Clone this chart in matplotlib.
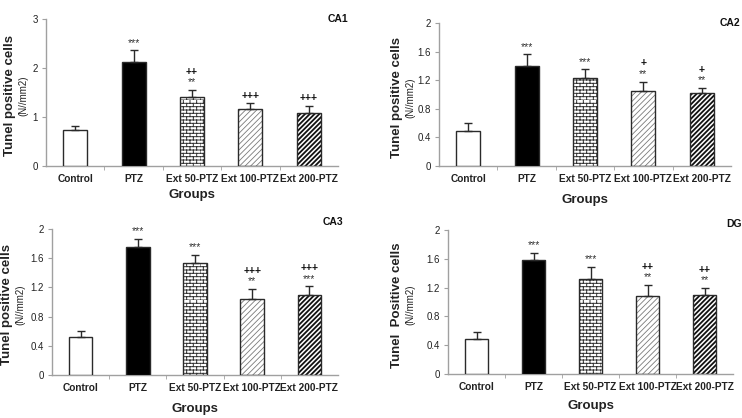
import warnings
warnings.filterwarnings("ignore")
import numpy as np
import matplotlib
matplotlib.use("Agg")
import matplotlib.pyplot as plt
from matplotlib import hatch as mhatch
from matplotlib.path import Path

# ---------------- data ----------------
groups = ["Control", "PTZ", "Ext 50-PTZ", "Ext 100-PTZ", "Ext 200-PTZ"]

ca1_mean = [0.74, 2.12, 1.41, 1.155, 1.09]
ca1_err = [0.08, 0.24, 0.14, 0.125, 0.13]
ca1_stars = ["", "***", "**", "", ""]
ca1_plus = ["", "", "++", "+++", "+++"]

ca2_mean = [0.485, 1.40, 1.235, 1.05, 1.025]
ca2_err = [0.115, 0.16, 0.115, 0.13, 0.07]
ca2_stars = ["", "***", "***", "**", "**"]
ca2_plus = ["", "", "", "+", "+"]

ca3_mean = [0.526, 1.757, 1.533, 1.04, 1.094]
ca3_err = [0.075, 0.11, 0.11, 0.14, 0.12]
ca3_stars = ["", "***", "***", "**", "***"]
ca3_plus = ["", "", "", "+++", "+++"]

dg_mean = [0.49, 1.58, 1.32, 1.09, 1.10]
dg_err = [0.10, 0.105, 0.17, 0.15, 0.09]
dg_stars = ["", "***", "***", "**", "**"]
dg_plus = ["", "", "", "++", "++"]

ca1_ticks = [0, 1, 2, 3]
small_ticks = [0, 0.4, 0.8, 1.2, 1.6, 2]


# ---------------- custom brick hatch ----------------
class Bricks(mhatch.HatchPatternBase):
    def __init__(self, hatch, density):
        self.rows = int(hatch.count("b") * density)
        if self.rows % 2:
            self.rows += 1
        self.cols = max(self.rows // 2, 1)
        self.num_vertices = (self.rows * 2 + self.rows * self.cols * 2) if self.rows else 0

    def set_vertices_and_codes(self, vertices, codes):
        k = 0
        for i in range(self.rows):
            y = i / self.rows
            vertices[k] = (0.0, y); codes[k] = Path.MOVETO; k += 1
            vertices[k] = (1.0, y); codes[k] = Path.LINETO; k += 1
        for i in range(self.rows):
            y0 = i / self.rows
            y1 = (i + 1) / self.rows
            off = 0.5 * (i % 2)
            for j in range(self.cols):
                x = ((j + off) / self.cols) % 1.0
                vertices[k] = (x, y0); codes[k] = Path.MOVETO; k += 1
                vertices[k] = (x, y1); codes[k] = Path.LINETO; k += 1


mhatch._hatch_types.append(Bricks)

plt.rcParams["font.family"] = ["Liberation Sans", "DejaVu Sans"]

W, H = 742, 418
fig = plt.figure(figsize=(W / 100, H / 100), dpi=100)
fig.patch.set_facecolor("white")

AX_GRAY = "#a0a0a0"
EDGE = "#2a2a2a"


def px_axes(l, r, t, b):
    return fig.add_axes([l / W, 1 - b / H, (r - l) / W, (b - t) / H])


styles = [
    dict(face="white", hatch=None, hcol=None, hlw=None),
    dict(face="black", hatch=None, hcol=None, hlw=None),
    dict(face="white", hatch="bbbbb", hcol="#333333", hlw=0.7),
    dict(face="white", hatch="//////", hcol="#7a7a7a", hlw=0.6),
    dict(face="white", hatch="///////", hcol="#111111", hlw=1.3),
]


def panel(box, mean, err, stars, plus, ylim, yticks, ytlabels, title, title_pos,
          ylab, lab_off, small_off, groups_pad):
    ax = px_axes(*box)
    x = np.arange(len(groups))
    width = 0.41
    for i in range(len(groups)):
        st = styles[i]
        if st["hatch"]:
            b = ax.bar(x[i], mean[i], width, color="white", edgecolor=st["hcol"],
                       hatch=st["hatch"], linewidth=0, zorder=2)
            for p in b:
                if hasattr(p, "set_hatch_linewidth"):
                    p.set_hatch_linewidth(st["hlw"])
        ax.bar(x[i], mean[i], width, color=st["face"] if not st["hatch"] else "none",
               edgecolor=EDGE, linewidth=1.0, zorder=3)
    ax.errorbar(x, mean, yerr=[np.zeros(len(err)), err], fmt="none",
                ecolor=EDGE, elinewidth=1.0, capsize=3, capthick=1.0, zorder=4)
    for i in range(len(groups)):
        top = mean[i] + err[i]
        off = 2
        if stars[i]:
            ax.annotate(stars[i], xy=(x[i], top), xytext=(0, off), textcoords="offset points",
                        ha="center", va="bottom", fontsize=7.5, color="#333333")
            off += 7.5
        if plus[i]:
            ax.annotate(plus[i], xy=(x[i], top), xytext=(0, off), textcoords="offset points",
                        ha="center", va="bottom", fontsize=7.5, fontweight="bold", color="#111111")
    ax.set_xlim(-0.5, len(groups) - 0.5)
    ax.set_ylim(*ylim)
    ax.set_yticks(yticks)
    ax.set_yticklabels(ytlabels)
    ax.set_xticks(x)
    ax.set_xticklabels(groups, fontweight="bold", fontsize=7.3, color="#222222")
    ax.set_xticks(np.arange(0.5, len(groups) - 0.5, 1), minor=True)
    ax.tick_params(axis="x", which="major", length=0, pad=6)
    ax.tick_params(axis="x", which="minor", length=3, direction="out", color=AX_GRAY)
    ax.tick_params(axis="y", length=3, direction="out", color=AX_GRAY, labelsize=7,
                   labelcolor="#222222", pad=3)
    for s in ["top", "right"]:
        ax.spines[s].set_visible(False)
    for s in ["left", "bottom"]:
        ax.spines[s].set_color(AX_GRAY)
        ax.spines[s].set_linewidth(1.0)
    ax.set_facecolor("white")
    ax.text(title_pos[0], title_pos[1], title, transform=ax.transAxes, ha="right",
            va="center", fontsize=7.5, fontweight="bold", color="#111111")
    ax.annotate(ylab, xy=(0, 0.48), xycoords="axes fraction", xytext=(lab_off, 0),
                textcoords="offset pixels", rotation=90, ha="center", va="center",
                fontsize=9.5, fontweight="bold", color="#222222")
    ax.annotate("(N//mm2)", xy=(0, 0.48), xycoords="axes fraction", xytext=(small_off, 0),
                textcoords="offset pixels", rotation=90, ha="center", va="center",
                fontsize=7, color="#222222")
    ax.annotate("Groups", xy=(0.5, 0), xycoords="axes fraction", xytext=(0, -groups_pad),
                textcoords="offset pixels", ha="center", va="center",
                fontsize=9.5, fontweight="bold", color="#222222")
    return ax


panel((46, 338, 19, 166), ca1_mean, ca1_err, ca1_stars, ca1_plus, (0, 3),
      ca1_ticks, [str(v) for v in ca1_ticks], "CA1", (1.035, 1.0),
      "Tunel positive cells", -36, -23, 29)

lbl = ["0", "0.4", "0.8", "1.2", "1.6", "2"]
panel((439, 731, 23, 166), ca2_mean, ca2_err, ca2_stars, ca2_plus, (0, 2),
      small_ticks, lbl, "CA2", (1.03, 1.0),
      "Tunel positive cells", -42, -29, 34)

panel((52, 338, 229, 375), ca3_mean, ca3_err, ca3_stars, ca3_plus, (0, 2),
      small_ticks, lbl, "CA3", (1.02, 1.05),
      "Tunel positive cells", -45, -32, 34)

panel((448, 733, 230, 374), dg_mean, dg_err, dg_stars, dg_plus, (0, 2),
      small_ticks, lbl, "DG", (1.03, 1.04),
      "Tunel  Positive cells", -51, -38, 32)

fig.savefig("out.png", dpi=100, facecolor="white")
